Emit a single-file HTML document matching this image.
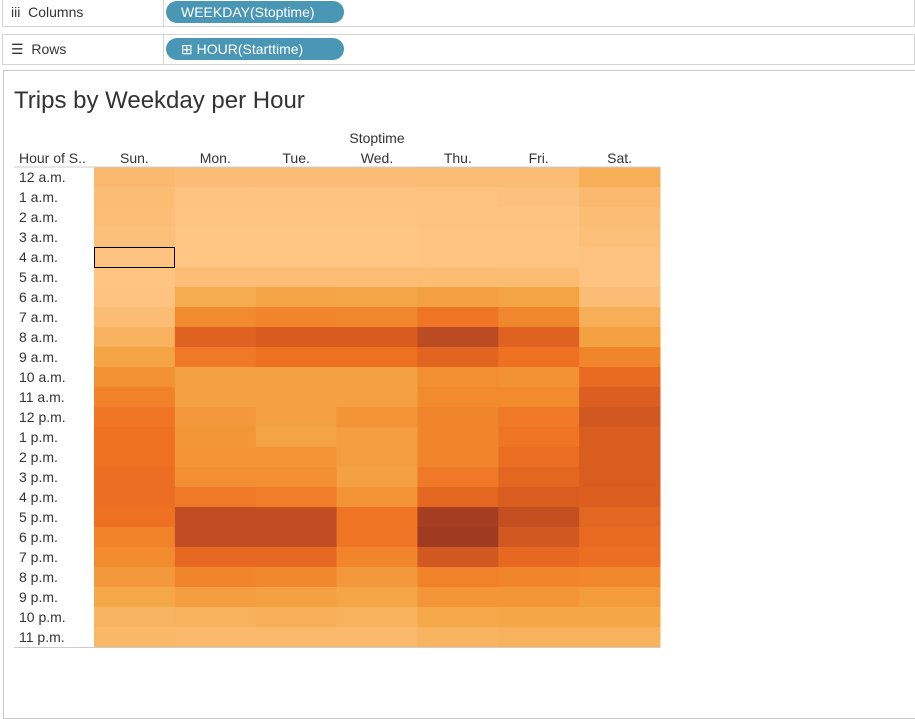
<!DOCTYPE html>
<html><head><meta charset="utf-8"><style>
body{margin:0;width:915px;height:717px;background:#fff;font-family:"Liberation Sans",sans-serif;overflow:hidden;position:relative}
.shelf{position:absolute;left:2px;right:0;border:1px solid #d4d4d4;background:#fff}
.lbl{position:absolute;left:28px;font-size:14px;color:#333}
.pill{position:absolute;left:163px;width:178px;height:22px;border-radius:11px;background:#4a97b5;color:#fff;font-size:14px;line-height:22px}
.div{position:absolute;left:160px;top:0;bottom:0;border-left:1px solid #d4d4d4}
</style></head><body>
<div class="shelf" style="top:-1px;height:26px">
<div class="lbl" style="top:4px;left:8px">iii&nbsp; Columns</div>
<div class="div"></div>
<div class="pill" style="top:1px;padding-left:15px;width:163px">WEEKDAY(Stoptime)</div>
</div>
<div class="shelf" style="top:34px;height:29px">
<div class="lbl" style="top:6px;left:8px">☰&nbsp; Rows</div>
<div class="div"></div>
<div class="pill" style="top:3px;padding-left:15px;width:163px">⊞ HOUR(Starttime)</div>
</div>
<div style="position:absolute;left:3px;top:70px;right:-2px;bottom:-2px;border:1px solid #c8c8c8"></div>
<div style="position:absolute;left:14px;top:87px;font-size:24px;color:#333;font-weight:300">Trips by Weekday per Hour</div>
<svg id="hm" width="915" height="717" style="position:absolute;left:0;top:0"></svg>
<script>
const days=["Sun.","Mon.","Tue.","Wed.","Thu.","Fri.","Sat."];
const hours=["12 a.m.","1 a.m.","2 a.m.","3 a.m.","4 a.m.","5 a.m.","6 a.m.","7 a.m.","8 a.m.","9 a.m.","10 a.m.","11 a.m.","12 p.m.","1 p.m.","2 p.m.","3 p.m.","4 p.m.","5 p.m.","6 p.m.","7 p.m.","8 p.m.","9 p.m.","10 p.m.","11 p.m."];
const values=[
[12,9,9,9,10,10,20],[10,3,3,3,4,5,12],[8,2,2,2,3,3,10],[6,1,1,1,2,2,7],[3,1,1,1,2,2,4],
[2,8,8,8,10,10,3],[3,22,27,26,30,28,9],[10,45,48,47,58,47,20],[18,72,77,77,90,72,30],
[28,55,60,60,70,60,48],[40,30,30,30,42,40,65],[50,30,30,30,45,45,75],[58,35,30,38,48,55,80],
[60,37,28,32,48,58,76],[60,38,38,32,48,62,76],[62,42,42,30,55,68,76],[62,55,52,38,68,76,74],
[60,88,88,58,98,86,68],[50,88,88,58,100,80,65],[45,66,66,48,80,66,62],[35,48,46,35,50,48,46],
[25,32,30,26,37,37,34],[16,18,20,18,24,26,26],[14,13,13,13,16,18,18]];
const stops=[[0,[255,198,133]],[10,[251,188,116]],[25,[245,168,72]],[45,[242,138,46]],[60,[238,113,34]],[75,[220,94,32]],[88,[192,78,34]],[100,[160,58,32]]];
function color(v){for(let i=1;i<stops.length;i++){if(v<=stops[i][0]){const a=stops[i-1],b=stops[i],t=(v-a[0])/(b[0]-a[0]);return "rgb("+a[1].map((c,k)=>Math.round(c+(b[1][k]-c)*t)).join(",")+")";}}return "rgb(160,58,32)";}
const x0=94,x1=660,y0=167,rh=20,cw=(x1-x0)/days.length;
const xs=i=>x0+i*cw, ys=j=>y0+j*rh;
const svg=document.getElementById('hm'),NS="http://www.w3.org/2000/svg";
function mk(t,a){const e=document.createElementNS(NS,t);for(const k in a)e.setAttribute(k,a[k]);svg.appendChild(e);return e;}
let t=mk('text',{x:377,y:143,'font-size':14,fill:'#333','text-anchor':'middle'});t.textContent="Stoptime";


t=mk('text',{x:19,y:163,'font-size':14,fill:'#333'});t.textContent="Hour of S..";


days.forEach((d,i)=>{const e=mk('text',{x:xs(i)+cw/2,y:163,'font-size':14,fill:'#333','text-anchor':'middle'});e.textContent=d;

});
hours.forEach((h,j)=>{const e=mk('text',{x:19,y:ys(j)+15,'font-size':14,fill:'#333'});e.textContent=h;


values[j].forEach((v,i)=>{const r=mk('rect',{x:xs(i),y:ys(j),width:cw+0.5,height:rh+0.5,fill:color(v)});

});});
let l=mk('line',{x1:14,x2:660,y1:167,y2:167,stroke:'#ccc'});
l=mk('line',{x1:14,x2:660,y1:647.5,y2:647.5,stroke:'#ccc'});
let s=mk('rect',{x:94.5,y:ys(4)+0.5,width:80,height:20,fill:'none',stroke:'#000'});


</script>
</body></html>
